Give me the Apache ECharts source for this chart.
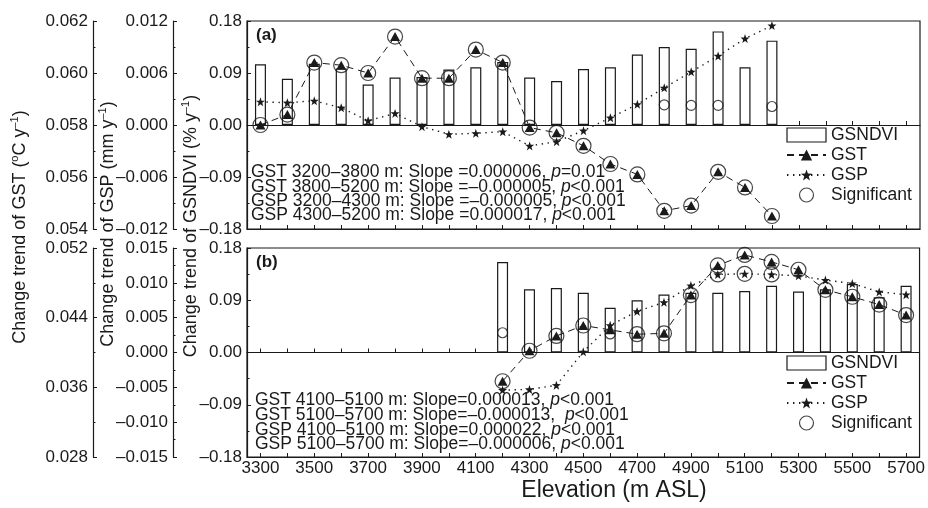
<!DOCTYPE html>
<html>
<head>
<meta charset="utf-8">
<script src="https://cdn.jsdelivr.net/npm/echarts@6/dist/echarts.min.js"></script>
<style>
  html, body { margin: 0; padding: 0; background: #fff; }
  #chart { width: 928px; height: 508px; }
</style>
</head>
<body>
<div id="chart"></div>
<script>
// elevation classes (m ASL)
const elevations = [3300, 3400, 3500, 3600, 3700, 3800, 3900, 4000, 4100, 4200, 4300, 4400, 4500,
  4600, 4700, 4800, 4900, 5000, 5100, 5200, 5300, 5400, 5500, 5600, 5700]

// panel (a)
const gsndviA = [0.105, 0.080, 0.106, 0.098, 0.070, 0.082, 0.083, 0.096, 0.100, 0.109, 0.082, 0.076, 0.097,
  0.100, 0.122, 0.135, 0.132, 0.162, 0.100, 0.146, null, null, null, null, null]
const gstA = [0.0580, 0.0584, 0.0604, 0.0603, 0.0600, 0.0614, 0.0598, 0.0598, 0.0609, 0.0604, 0.0579, 0.0577, 0.0572,
  0.0565, 0.0561, 0.0547, 0.0549, 0.0562, 0.0556, 0.0545, null, null, null, null, null]
const gspA = [0.00268, 0.00257, 0.00279, 0.00199, 0.00049, 0.00134, -0.00019, -0.00107, -0.00096, -0.00077, -0.00241, -0.00192, -0.00065,
  0.00084, 0.00238, 0.00429, 0.00613, 0.00797, 0.00997, 0.01147, null, null, null, null, null]
const sigGstA = [3300, 3400, 3500, 3600, 3700, 3800, 3900, 4000, 4100, 4200, 4300, 4400, 4500, 4600, 4700, 4800, 4900, 5000, 5100, 5200]
const sigGspA = []
const sigNdviA = [4800, 4900, 5000, 5200]
const sigNdviAVal = [0.035, 0.034, 0.034, 0.032]

// panel (b)
const gsndviB = [null, null, null, null, null, null, null, null, null, 0.156, 0.109, 0.111, 0.103,
  0.077, 0.090, 0.100, 0.103, 0.103, 0.106, 0.115, 0.105, 0.109, 0.118, 0.095, 0.115]
const gstB = [null, null, null, null, null, null, null, null, null, 0.0367, 0.0402, 0.0419, 0.0431,
  0.0426, 0.0421, 0.0422, 0.0466, 0.0500, 0.0512, 0.0504, 0.0495, 0.0472, 0.0464, 0.0455, 0.0443]
const gspB = [null, null, null, null, null, null, null, null, null, -0.0054, -0.0053, -0.0047, 0.0001,
  0.0039, 0.0059, 0.0072, 0.0096, 0.0112, 0.0113, 0.0112, 0.0110, 0.0104, 0.0099, 0.0087, 0.0083]
const sigGstB = [4200, 4300, 4400, 4500, 4700, 4800, 4900, 5000, 5100, 5200, 5300, 5400, 5500, 5600, 5700]
const sigGspB = [5000, 5100, 5200]
const sigNdviB = [4200, 4600]
const sigNdviBVal = [0.034, 0.032]

// slope annotations
const notesA = [
  ['GST 3200–3800 m: Slope =0.000006, ', '=0.01'],
  ['GST 3800–5200 m: Slope =–0.000005, ', '<0.001'],
  ['GSP 3200–4300 m: Slope =–0.000005, ', '<0.001'],
  ['GSP 4300–5200 m: Slope =0.000017, ', '<0.001']
]
const notesB = [
  ['GST 4100–5100 m: Slope=0.000013, ', '<0.001'],
  ['GST 5100–5700 m: Slope=–0.000013,  ', '<0.001'],
  ['GSP 4100–5100 m: Slope=0.000022, ', '<0.001'],
  ['GSP 5100–5700 m: Slope=–0.000006, ', '<0.001']
]

const INK = '#1a1a1a'
const FONT = '"Liberation Sans", Arial, sans-serif'
const STAR = 'path://M0,-10L2.35,-3.24L9.51,-3.09L3.8,1.24L5.88,8.09L0,4L-5.88,8.09L-3.8,1.24L-9.51,-3.09L-2.35,-3.24Z'

const fmt = (v, d) => {
  if (Math.abs(v) < 1e-12) v = 0
  return v.toFixed(d).replace('-', '\u2013')
}

const pick = (values, sig) => elevations.map((e, i) => (sig.includes(e) ? values[i] : null))
const pairs = (elev, vals) => elev.map((e, i) => [elevations.indexOf(e), vals[i]])

const yAx = (grid, min, max, interval, offset, digits) => ({
  type: 'value', gridIndex: grid, position: 'left', offset, min, max, interval,
  axisLine: { show: true, onZero: false, lineStyle: { color: INK, width: 1.2 } },
  axisTick: { show: true, inside: true, length: 4, lineStyle: { color: INK } },
  minorTick: { show: true, splitNumber: 2, length: 2.5, lineStyle: { color: INK } },
  splitLine: { show: false },
  minorSplitLine: { show: false },
  axisLabel: { color: INK, fontSize: 17, fontFamily: FONT, margin: 5, formatter: v => fmt(v, digits) }
})

const xAx = (grid, zero, showLabel, zeroIdx) => ({
  type: 'category', gridIndex: grid, data: elevations.map(String), position: 'bottom', boundaryGap: true,
  axisLine: { show: true, onZero: zero, onZeroAxisIndex: zeroIdx, lineStyle: { color: INK, width: 1.2 } },
  axisTick: { show: true, inside: true, length: 4, alignWithLabel: true, interval: 0, lineStyle: { color: INK } },
  axisLabel: { show: showLabel, interval: 1, color: INK, fontSize: 17, fontFamily: FONT, margin: 3 },
  splitLine: { show: false }
})

const panelSeries = (p, ndvi, gst, gsp, sigGst, sigGsp, sigNdvi) => {
  const xi = p * 2
  const yi = p * 3
  const ring = { color: 'rgba(0,0,0,0)', borderColor: INK, borderWidth: 1.2 }
  return [
    {
      name: 'GSNDVI', type: 'bar', xAxisIndex: xi, yAxisIndex: yi, data: ndvi, barWidth: 11,
      itemStyle: { color: '#fff', borderColor: INK, borderWidth: 1.2 }, z: 2
    },
    {
      name: 'GST', type: 'line', xAxisIndex: xi, yAxisIndex: yi + 2, data: gst,
      symbol: 'triangle', symbolSize: [10, 9], showAllSymbol: true,
      itemStyle: { color: INK }, lineStyle: { color: INK, width: 1, type: [7, 5] }, z: 3
    },
    {
      name: 'GSP', type: 'line', xAxisIndex: xi, yAxisIndex: yi + 1, data: gsp,
      symbol: STAR, symbolSize: 9, showAllSymbol: true,
      itemStyle: { color: INK }, lineStyle: { color: INK, width: 1.4, type: [1.4, 4.6] }, z: 3
    },
    {
      name: 'Significant', type: 'scatter', xAxisIndex: xi, yAxisIndex: yi + 2,
      data: pick(gst, sigGst), symbol: 'circle', symbolSize: 15, itemStyle: ring, z: 4
    },
    {
      name: 'Significant', type: 'scatter', xAxisIndex: xi, yAxisIndex: yi + 1,
      data: pick(gsp, sigGsp), symbol: 'circle', symbolSize: 15, itemStyle: ring, z: 4
    },
    {
      name: 'Significant', type: 'scatter', xAxisIndex: xi, yAxisIndex: yi,
      data: sigNdvi, symbol: 'circle', symbolSize: 10, itemStyle: ring, z: 4
    }
  ]
}

const legendData = [
  { name: 'GSNDVI', icon: 'rect', itemStyle: { color: '#fff', borderColor: INK, borderWidth: 1.2 } },
  { name: 'GST' },
  { name: 'GSP' },
  { name: 'Significant', icon: 'circle', itemStyle: { color: 'rgba(0,0,0,0)', borderColor: INK, borderWidth: 1.2 } }
]
const legendAt = top => ({
  data: legendData, orient: 'vertical', left: 786, top, padding: 0,
  itemWidth: 39, itemHeight: 14, itemGap: 0, selectedMode: false,
  textStyle: { color: INK, fontSize: 17.5, fontFamily: FONT, lineHeight: 20 }
})

const noteRich = {
  n: { fontSize: 17.5, fontFamily: FONT, fill: INK },
  i: { fontSize: 17.5, fontFamily: FONT, fontStyle: 'italic', fill: INK }
}
const noteTexts = (notes, x, ys) => notes.map((n, k) => ({
  type: 'text', x, y: ys[k],
  style: { text: `{n|${n[0]}}{i|p}{n|${n[1]}}`, rich: noteRich, verticalAlign: 'middle', align: 'left' }
}))

const titleRich = {
  n: { fontSize: 18, fontFamily: FONT, fill: INK, lineHeight: 22 },
  s: { fontSize: 11, fontFamily: FONT, fill: INK, lineHeight: 12, verticalAlign: 'top' }
}
const yTitle = (x, y, text) => ({
  type: 'text', x, y, rotation: Math.PI / 2,
  style: { text, rich: titleRich, align: 'center', verticalAlign: 'middle' }
})

const chart = echarts.init(document.getElementById('chart'))
chart.setOption({
  animation: false,
  backgroundColor: '#fff',
  grid: [
    { left: 247, right: 8, top: 21, height: 208, show: true, borderColor: INK, borderWidth: 1.2, backgroundColor: 'transparent' },
    { left: 247, right: 8, top: 248, height: 209, show: true, borderColor: INK, borderWidth: 1.2, backgroundColor: 'transparent' }
  ],
  xAxis: [
    xAx(0, false, false),
    xAx(0, true, false, 0),
    xAx(1, false, true),
    xAx(1, true, false, 3)
  ],
  yAxis: [
    yAx(0, -0.18, 0.18, 0.09, 0, 2),
    yAx(0, -0.012, 0.012, 0.006, 74, 3),
    yAx(0, 0.054, 0.062, 0.002, 154, 3),
    yAx(1, -0.18, 0.18, 0.09, 0, 2),
    yAx(1, -0.015, 0.015, 0.005, 74, 3),
    yAx(1, 0.028, 0.052, 0.008, 154, 3)
  ],
  legend: [legendAt(125), legendAt(353)],
  series: [
    ...panelSeries(0, gsndviA, gstA, gspA, sigGstA, sigGspA, pairs(sigNdviA, sigNdviAVal)),
    ...panelSeries(1, gsndviB, gstB, gspB, sigGstB, sigGspB, pairs(sigNdviB, sigNdviBVal))
  ],
  graphic: [
    { type: 'text', x: 256, y: 35, style: { text: '(a)', fontSize: 17, fontWeight: 'bold', fontFamily: FONT, fill: INK, verticalAlign: 'middle' } },
    { type: 'text', x: 256, y: 262, style: { text: '(b)', fontSize: 17, fontWeight: 'bold', fontFamily: FONT, fill: INK, verticalAlign: 'middle' } },
    ...noteTexts(notesA, 251, [172, 187, 201.5, 215.5]),
    ...noteTexts(notesB, 255, [400, 415, 430, 444]),
    yTitle(20, 227, '{n|Change trend of GST (}{s|o}{n|C y}{s|\u20131}{n|)}'),
    yTitle(108, 224, '{n|Change trend of GSP (mm y}{s|\u20131}{n|)}'),
    yTitle(191, 226, '{n|Change trend of GSNDVI (% y}{s|\u20131}{n|)}'),
    { type: 'text', x: 614, y: 491, style: { text: 'Elevation (m ASL)', fontSize: 23, fontFamily: FONT, fill: INK, align: 'center', verticalAlign: 'middle' } }
  ]
})
</script>
</body>
</html>
